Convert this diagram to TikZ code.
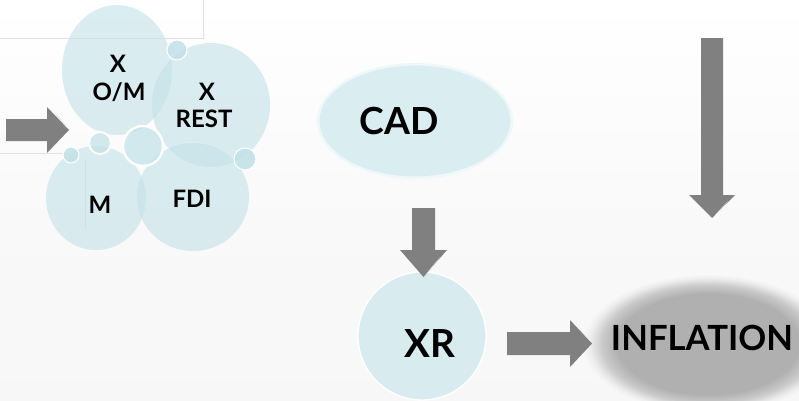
\documentclass[tikz,border=0pt]{standalone}
\usepackage{fontspec}
\setmainfont{Lato}
\usetikzlibrary{shapes.geometric}
\definecolor{bub}{RGB}{196,226,232}
\definecolor{cadfill}{RGB}{218,237,241}
\definecolor{xrfill}{RGB}{216,236,240}
\definecolor{arrowgray}{RGB}{128,128,128}
\definecolor{faint}{RGB}{225,225,225}
\pgfdeclareradialshading{inflsh}{\pgfpoint{0bp}{0bp}}{color(0bp)=(gray!62); color(18bp)=(gray!62); color(21bp)=(gray!42); color(23.5bp)=(gray!14); color(25bp)=(gray!5); color(50bp)=(gray!5)}
\pgfdeclareverticalshading{bgsh}{100bp}{color(0bp)=(gray!6); color(25bp)=(gray!6); color(45bp)=(gray!5); color(75bp)=(white); color(100bp)=(white)}
\begin{document}
\begin{tikzpicture}[x=0.75pt,y=-0.75pt,
  bubble/.style={ellipse, fill=bub, fill opacity=0.62, draw=none, inner sep=0pt},
  dot/.style={circle, fill=bub, fill opacity=0.9, draw=white, line width=0.8pt, inner sep=0pt},
  bigdot/.style={circle, fill=bub, fill opacity=0.75, draw=white, line width=1.8pt, inner sep=0pt},
  lbl/.style={font=\bfseries\fontsize{18}{20}\selectfont, anchor=base, inner sep=0pt, text=black},
  big/.style={font=\bfseries\fontsize{28}{30}\selectfont, anchor=base, inner sep=0pt, text=black},
  barrow/.style={fill=arrowgray},
  glint/.style={fill=gray!22},
  faintline/.style={draw=faint, line width=0.6pt}]
\useasboundingbox (0,0) rectangle (799,400);
\clip (0,0) rectangle (799,400);
% background
\shade[shading=bgsh] (0,0) rectangle (799,400);
% faint frame lines
\draw[faintline] (0,38) -- (203,38) -- (203,0);
\draw[faintline] (0,153) -- (70,153);
\draw[faintline] (85,160) -- (85,230);
% cluster of bubbles
\node[bubble, minimum width=82.5pt, minimum height=97.5pt] (om) at (117,70) {};
\node[bubble, minimum width=88.5pt, minimum height=93pt] (rest) at (211,105) {};
\node[bubble, minimum width=75pt, minimum height=78pt] (m) at (96,198) {};
\node[bubble, minimum width=84pt, minimum height=81pt] (fdi) at (193,197) {};
\node[dot, minimum size=15pt] (d1) at (177,50) {};
\node[bigdot, minimum size=16.5pt, line width=1.4pt] (d2) at (100,143) {};
\node[bigdot, minimum size=30pt] (d3) at (143,146) {};
\node[dot, minimum size=12pt] (d4) at (71,155) {};
\node[dot, minimum size=16.5pt] (d5) at (245,159) {};
\node[lbl] (tx1) at (118,72) {X};
\node[lbl] (tom) at (119,100) {O/M};
\node[lbl] (tx2) at (207,100) {X};
\node[lbl] (trest) at (204,127) {REST};
\node[lbl] (tm) at (100,213) {M};
\node[lbl] (tfdi) at (192,207) {FDI};
% CAD
\node[ellipse, fill=cadfill!45, minimum width=147pt, minimum height=87pt, inner sep=0pt] (cadglow) at (415,121) {};
\node[ellipse, fill=cadfill, minimum width=143pt, minimum height=83pt, inner sep=0pt] (cad) at (415,121) {};
\node[big] (tcad) at (399,134) {CAD};
% XR
\node[circle, fill=xrfill, draw=white, line width=1pt, minimum size=96pt, inner sep=0pt] (xr) at (422,336) {};
\node[big, font=\bfseries\fontsize{29}{30}\selectfont] (txr) at (430,357) {XR};
% INFLATION shadow
\shade[shading=inflsh] (708,344) ellipse [x radius=126, y radius=70];
\node[big, font=\bfseries\fontsize{26}{28}\selectfont] (tinfl) at (702,350) {INFLATION};
% block arrows
\fill[barrow] (6,119) -- (47,119) -- (47,107) -- (69,130) -- (47,153) -- (47,141) -- (6,141) -- cycle;
\fill[glint] (67,128) -- (55,114) .. controls (60,117) and (63,121) .. cycle;
\fill[barrow] (412,208) -- (435,208) -- (435,250) -- (447,250) -- (423.5,277) -- (400,250) -- (412,250) -- cycle;
\fill[glint] (426,274) -- (440,257) .. controls (436,263) and (431,269) .. cycle;
\fill[barrow] (701,38) -- (723,38) -- (723,195) -- (735,195) -- (712,218) -- (689,195) -- (701,195) -- cycle;
\fill[glint] (715,215) -- (728,201) .. controls (724,207) and (720,212) .. cycle;
\fill[barrow] (507,332) -- (570,332) -- (570,320) -- (592,343.5) -- (570,367) -- (570,355) -- (507,355) -- cycle;
\fill[glint] (590,341) -- (576,326) .. controls (581,330) and (586,336) .. cycle;
\end{tikzpicture}
\end{document}
